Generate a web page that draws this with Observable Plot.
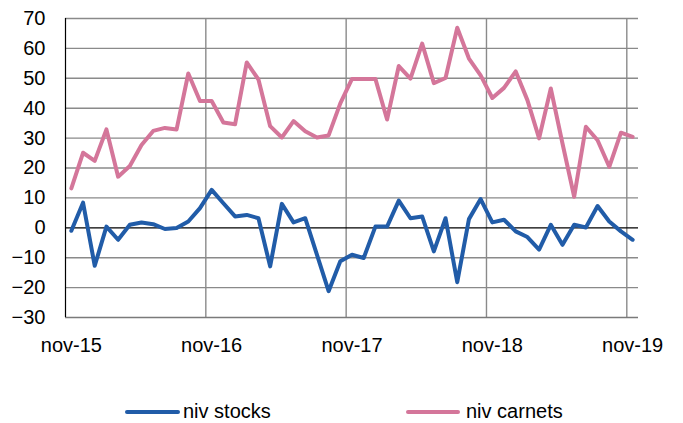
<!DOCTYPE html>
<html>
<head>
<meta charset="utf-8">
<script src="https://cdn.jsdelivr.net/npm/d3@7"></script>
<script src="https://cdn.jsdelivr.net/npm/@observablehq/plot@0.6"></script>
<style>
  html, body { margin: 0; padding: 0; background: #fff; }
  #wrap { position: relative; width: 683px; height: 423px; font-family: "Liberation Sans", Arial, sans-serif; color: #000; }
  #chart svg { display: block; }
  .lg-line { position: absolute; height: 4px; border-radius: 2px; }
  .lg-text { position: absolute; font-size: 20px; line-height: 20px; white-space: nowrap; }
</style>
</head>
<body>
<div id="wrap">
  <div id="chart"></div>
  <div class="lg-line" id="l1" style="left:125px; top:410px; width:55px;"></div>
  <div class="lg-text" id="t1" style="left:183px; top:401px;"></div>
  <div class="lg-line" id="l2" style="left:406px; top:410px; width:54px;"></div>
  <div class="lg-text" id="t2" style="left:466px; top:401px;"></div>
</div>
<script>
// Monthly series, nov-15 .. nov-19
const startMonth = "2015-11-01";
const tickLabels = ["nov-15", "nov-16", "nov-17", "nov-18", "nov-19"];
const seriesNames = ["niv stocks", "niv carnets"];
const seriesColors = ["#215ca8", "#d4769a"];
const stocks = [-1.0, 8.4, -12.7, 0.4, -4.0, 1.0, 1.8, 1.2, -0.4, -0.1, 2.1, 6.6,
  12.7, 8.2, 3.8, 4.3, 3.2, -12.9, 8.0, 1.8, 3.2, -9.0, -21.2, -11.2,
  -9.0, -10.1, 0.4, 0.4, 9.1, 3.2, 3.8, -7.9, 3.2, -18.2, 2.9, 9.6,
  1.8, 2.7, -1.2, -3.1, -7.3, 1.0, -5.7, 1.0, 0.1, 7.3, 2.1, -1.2, -4.0];
const carnets = [13.2, 25.1, 22.4, 32.9, 17.1, 20.7, 27.7, 32.4, 33.4, 32.9, 51.6, 42.4,
  42.4, 35.2, 34.6, 55.3, 49.6, 34.0, 30.2, 35.7, 32.3, 30.2, 30.9, 41.6,
  49.8, 49.8, 49.8, 36.2, 54.1, 49.9, 61.6, 48.4, 50.1, 66.9, 56.6, 51.0,
  43.4, 46.8, 52.3, 42.7, 29.9, 46.6, 28.2, 10.4, 33.8, 29.3, 20.4, 31.8, 30.4];
const yTicks = [-30, -20, -10, 0, 10, 20, 30, 40, 50, 60, 70];

const n = stocks.length;
const t0 = new Date(startMonth + "T00:00:00Z");
const months = d3.range(n).map(i => d3.utcMonth.offset(t0, i));
const isNov = months.map(d => d.getUTCMonth() === 10);
const labelIdx = d3.range(n).filter(i => isNov[i]);
const gridIdx = labelIdx.map(i => i - 0.5).filter(v => v > -0.5);

const rows = [];
for (let i = 0; i < n; i++) {
  rows.push({i, v: stocks[i], s: seriesNames[0]});
}
for (let i = 0; i < n; i++) {
  rows.push({i, v: carnets[i], s: seriesNames[1]});
}

const chart = Plot.plot({
  width: 683,
  height: 370,
  marginLeft: 65,
  marginRight: 45,
  marginTop: 18,
  marginBottom: 53,
  style: {fontFamily: "'Liberation Sans', Arial, sans-serif", fontSize: "20px", color: "#000", background: "#fff"},
  x: {domain: [-0.5, n - 0.5], axis: null},
  y: {domain: [-30, 70], axis: null},
  color: {domain: seriesNames, range: seriesColors},
  marks: [
    Plot.gridY(yTicks.filter(v => v !== 0 && v !== -30), {stroke: "#8a8a8a", strokeOpacity: 1, strokeWidth: 1.4}),
    Plot.gridX(gridIdx, {stroke: "#8a8a8a", strokeOpacity: 1, strokeWidth: 1.4}),
    Plot.ruleY([-30], {stroke: "#7a7a7a", strokeWidth: 1.4}),
    Plot.ruleX([-0.5], {stroke: "#000", strokeWidth: 1.2}),
    Plot.ruleY([0], {stroke: "#000", strokeWidth: 1.2}),
    Plot.line(rows, {x: "i", y: "v", z: "s", stroke: "s", strokeWidth: 4, strokeLinejoin: "round", strokeLinecap: "round"}),
    Plot.axisY(yTicks, {label: null, tickSize: 0, tickPadding: 20, fontSize: 20, fill: "#000"}),
    Plot.axisX(labelIdx, {label: null, tickSize: 0, tickPadding: 20, fontSize: 20, fill: "#000",
      tickFormat: (d) => tickLabels[labelIdx.indexOf(d)]})
  ]
});
document.getElementById("chart").appendChild(chart);

document.getElementById("l1").style.background = seriesColors[0];
document.getElementById("l2").style.background = seriesColors[1];
document.getElementById("t1").textContent = seriesNames[0];
document.getElementById("t2").textContent = seriesNames[1];
</script>
</body>
</html>
